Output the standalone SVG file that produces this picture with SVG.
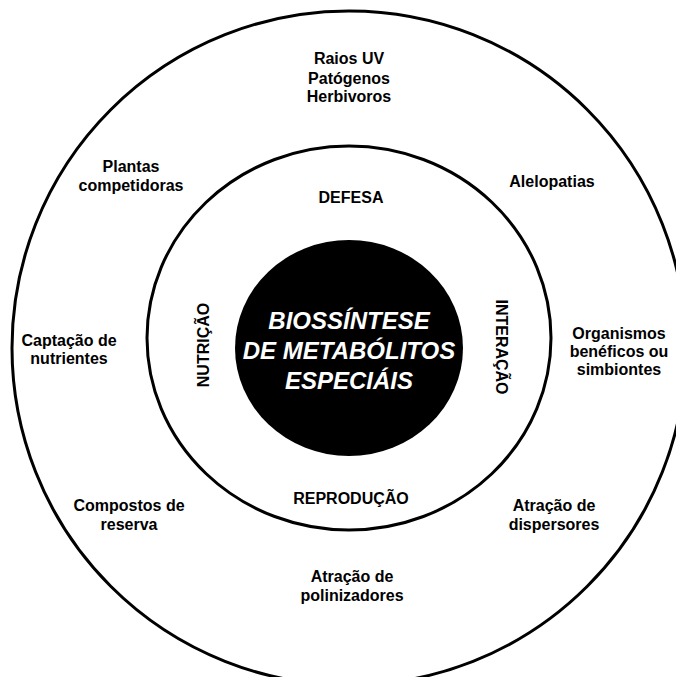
<svg xmlns="http://www.w3.org/2000/svg" width="676" height="677" viewBox="0 0 676 677">
<style>
.ring{fill:none;stroke:#000;stroke-width:3}
.lbl{font-family:"Liberation Sans",Arial,sans-serif;font-weight:bold;font-size:16px;fill:#000;text-anchor:middle}
.ctr{font-family:"Liberation Sans",Arial,sans-serif;font-weight:bold;font-style:italic;font-size:24px;fill:#fff;text-anchor:middle}
</style>
<rect width="676" height="677" fill="#fff"/>
<g id="outer-ring"><ellipse class="ring" cx="349" cy="348" rx="337" ry="337"/></g>
<g id="inner-ring"><ellipse class="ring" cx="349" cy="338" rx="202" ry="192"/></g>
<g id="core">
<ellipse cx="349" cy="348" rx="114" ry="108" fill="#000"/>
<text class="ctr" x="349" y="329">BIOSSÍNTESE</text>
<text class="ctr" x="349" y="359">DE METABÓLITOS</text>
<text class="ctr" x="349" y="389">ESPECIÁIS</text>
</g>
<g id="defesa"><text class="lbl" x="351" y="203">DEFESA</text></g>
<g id="reproducao"><text class="lbl" x="351" y="504">REPRODUÇÃO</text></g>
<g id="nutricao"><text class="lbl" transform="translate(209,345) rotate(-90)">NUTRIÇÃO</text></g>
<g id="interacao"><text class="lbl" transform="translate(496,347) rotate(90)">INTERAÇÃO</text></g>
<g id="raios"><text class="lbl" x="349" y="64">Raios UV</text><text class="lbl" x="349" y="84">Patógenos</text><text class="lbl" x="349" y="102">Herbivoros</text></g>
<g id="plantas"><text class="lbl" x="131" y="172">Plantas</text><text class="lbl" x="131" y="191">competidoras</text></g>
<g id="alelopatias"><text class="lbl" x="552" y="187">Alelopatias</text></g>
<g id="captacao"><text class="lbl" x="69" y="346">Captação de</text><text class="lbl" x="69" y="364">nutrientes</text></g>
<g id="organismos"><text class="lbl" x="619" y="339">Organismos</text><text class="lbl" x="619" y="357">benéficos ou</text><text class="lbl" x="619" y="375">simbiontes</text></g>
<g id="compostos"><text class="lbl" x="129" y="511">Compostos de</text><text class="lbl" x="129" y="530">reserva</text></g>
<g id="dispersores"><text class="lbl" x="554" y="511">Atração de</text><text class="lbl" x="554" y="530">dispersores</text></g>
<g id="polinizadores"><text class="lbl" x="352" y="582">Atração de</text><text class="lbl" x="352" y="601">polinizadores</text></g>
<g id="connectors"></g>
</svg>
